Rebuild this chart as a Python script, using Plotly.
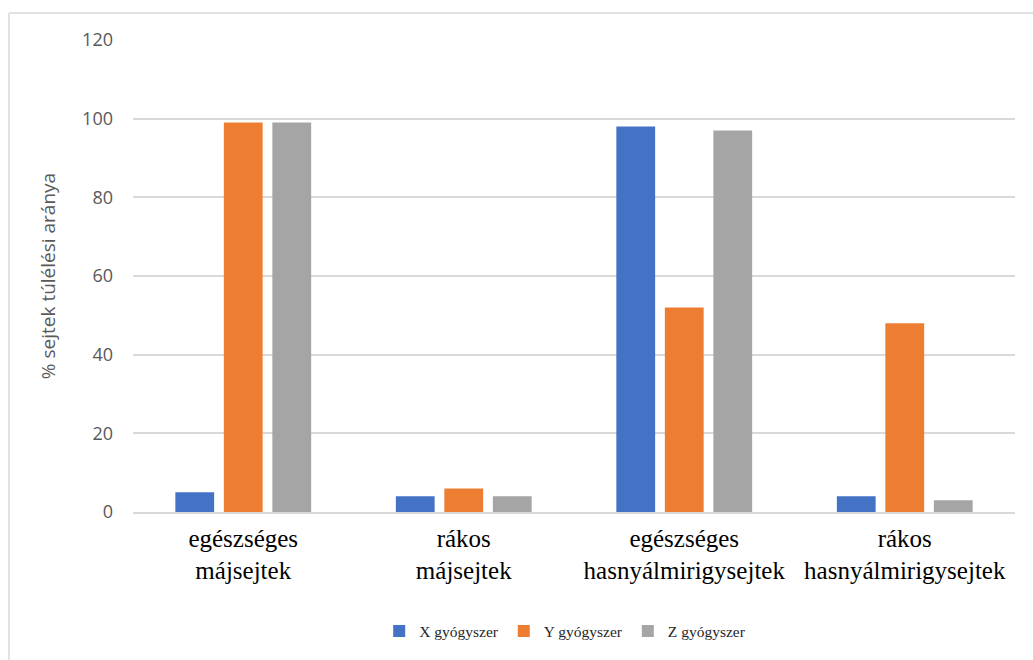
import plotly.graph_objects as go

# Cell types on the category axis (two-line labels)
categories = [
    "egészséges<br>májsejtek",
    "rákos<br>májsejtek",
    "egészséges<br>hasnyálmirigysejtek",
    "rákos<br>hasnyálmirigysejtek",
]

# Survival rate (%) per drug
drug_x = [5, 4, 98, 4]
drug_y = [99, 6, 52, 48]
drug_z = [99, 4, 97, 3]

series_names = ["X gyógyszer", "Y gyógyszer", "Z gyógyszer"]
series_colors = ["#4472C4", "#ED7D31", "#A5A5A5"]

y_ticks = [0, 20, 40, 60, 80, 100, 120]

W, H = 1033, 660
ML, MR, MT, MB = 133, 18, 40, 146
PW, PH = W - ML - MR, H - MT - MB


def px_to_paper_x(px):
    return (px - ML) / PW


def px_to_paper_y(py):
    return (H - MB - py) / PH


fig = go.Figure()
for name, vals, color in zip(series_names, [drug_x, drug_y, drug_z], series_colors):
    fig.add_trace(go.Bar(
        x=categories, y=vals, name=name,
        marker=dict(color=color, line=dict(width=0)),
    ))

# Light frame around the chart area (left and top edges)
frame_color = "#D9D9D9"
fig.add_shape(type="line", xref="paper", yref="paper",
              x0=px_to_paper_x(9), x1=px_to_paper_x(W + 5),
              y0=px_to_paper_y(13), y1=px_to_paper_y(13),
              line=dict(color=frame_color, width=1.5))
fig.add_shape(type="line", xref="paper", yref="paper",
              x0=px_to_paper_x(9), x1=px_to_paper_x(9),
              y0=px_to_paper_y(13), y1=px_to_paper_y(H + 5),
              line=dict(color=frame_color, width=1.5))

fig.update_layout(
    width=W, height=H,
    margin=dict(l=ML, r=MR, t=MT, b=MB),
    paper_bgcolor="white", plot_bgcolor="white",
    barmode="group", bargap=0.34, bargroupgap=0.2,
    showlegend=True,
    legend=dict(
        orientation="h", x=0.49, xanchor="center", y=px_to_paper_y(634), yanchor="middle",
        font=dict(family="Liberation Serif", size=15.5, color="#262626"),
        itemwidth=30,
    ),
    xaxis=dict(
        showgrid=False, showline=True, linecolor="#D9D9D9", linewidth=1.5,
        ticks="", tickfont=dict(family="Liberation Serif", size=25, color="#000000"),
        ticklabelstandoff=3,
    ),
    yaxis=dict(
        range=[0, 120], tickvals=y_ticks, ticktext=[str(v) for v in y_ticks],
        showgrid=True, gridcolor="#D9D9D9", gridwidth=1.5,
        zeroline=False, showline=False, ticks="",
        tickfont=dict(family="Open Sans", size=18, color="#595959"),
        ticklabelstandoff=19,
        title=dict(text="% sejtek túlélési aránya",
                   font=dict(family="Open Sans", size=19, color="#595959"),
                   standoff=21),
    ),
)

fig.write_html("out.html")
